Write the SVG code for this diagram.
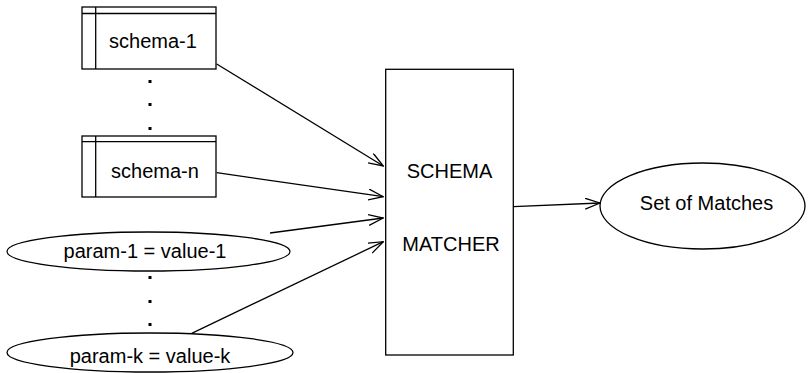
<svg xmlns="http://www.w3.org/2000/svg" width="810" height="373" viewBox="0 0 810 373">
<style>
.s{fill:#fff;stroke:#000;stroke-width:1.3}
.t{font-family:"Liberation Sans",Arial,sans-serif;font-size:20px;fill:#000;text-anchor:middle}
.c{stroke:#000;stroke-width:1.3;fill:none}
.d{fill:#000}
</style>
<defs>
<marker id="a" viewBox="0 0 16 12" refX="15" refY="6" markerWidth="16" markerHeight="12" markerUnits="userSpaceOnUse" orient="auto">
<path d="M0,0.5 L15,6 L0,11.5" fill="none" stroke="#000" stroke-width="1.3"/>
</marker>
</defs>
<g id="schema1">
<rect class="s" x="82" y="7" width="134" height="62"/>
<line class="c" x1="82" y1="13.5" x2="216" y2="13.5"/>
<line class="c" x1="95.7" y1="7" x2="95.7" y2="69"/>
<text class="t" x="153" y="47.5">schema-1</text>
</g>
<g id="dots1">
<rect class="d" x="148.5" y="80" width="3" height="3"/>
<rect class="d" x="148.5" y="103" width="3" height="3"/>
<rect class="d" x="148.5" y="127" width="3" height="3"/>
</g>
<g id="scheman">
<rect class="s" x="82" y="136" width="134" height="61"/>
<line class="c" x1="82" y1="141.7" x2="216" y2="141.7"/>
<line class="c" x1="95.7" y1="136" x2="95.7" y2="197"/>
<text class="t" x="155" y="177.5">schema-n</text>
</g>
<g id="param1">
<ellipse class="s" cx="148.5" cy="251.5" rx="141.5" ry="19.5"/>
<text class="t" x="145" y="257.5">param-1 = value-1</text>
</g>
<g id="dots2">
<rect class="d" x="148.5" y="276" width="3" height="3"/>
<rect class="d" x="148.5" y="300" width="3" height="3"/>
<rect class="d" x="148.5" y="323" width="3" height="3"/>
</g>
<g id="paramk">
<ellipse class="s" cx="150" cy="352.5" rx="143" ry="19.5"/>
<text class="t" x="150" y="363">param-k = value-k</text>
</g>
<g id="matcher">
<rect class="s" x="385.7" y="69.3" width="127.6" height="285.7"/>
<text class="t" x="449.5" y="178">SCHEMA</text>
<text class="t" x="451" y="250.5">MATCHER</text>
</g>
<g id="matches">
<ellipse class="s" cx="702.5" cy="206" rx="102.5" ry="43"/>
<text class="t" x="706.5" y="210">Set of Matches</text>
</g>
<g id="connectors">
<line class="c" x1="216.7" y1="64" x2="383.3" y2="166" marker-end="url(#a)"/>
<line class="c" x1="216.7" y1="172.7" x2="383.3" y2="196.7" marker-end="url(#a)"/>
<line class="c" x1="270" y1="233" x2="383.3" y2="218" marker-end="url(#a)"/>
<line class="c" x1="191.7" y1="333.3" x2="383.3" y2="241.7" marker-end="url(#a)"/>
<line class="c" x1="513.3" y1="206.7" x2="600" y2="203" marker-end="url(#a)"/>
</g>
</svg>
